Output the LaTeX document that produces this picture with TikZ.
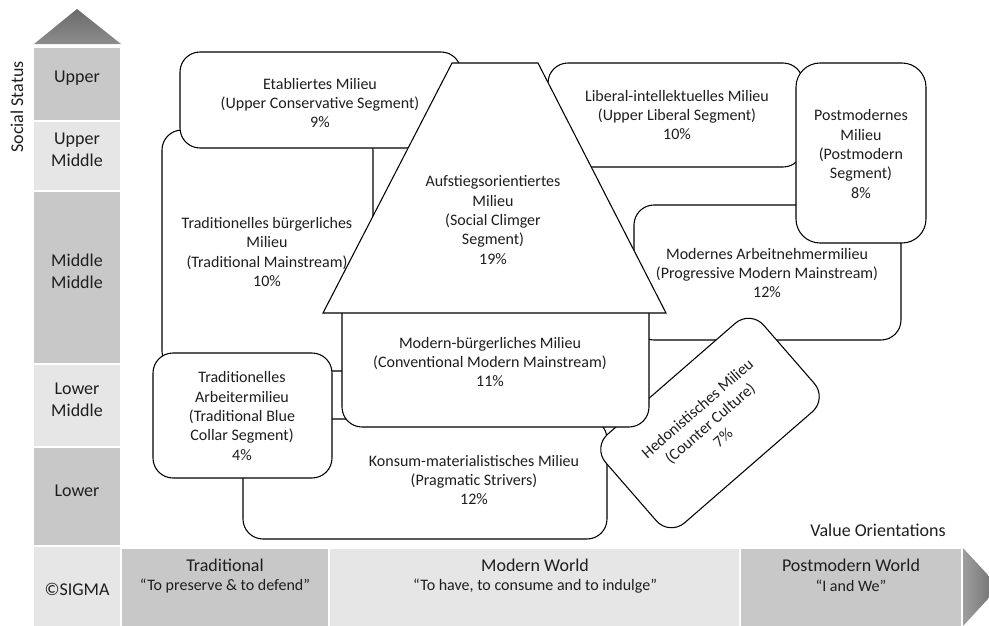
\documentclass[tikz,border=0pt]{standalone}
\usepackage{fontspec}
\setmainfont{Carlito}
\usetikzlibrary{fit}
\definecolor{cdark}{HTML}{C8C8C8}
\definecolor{clight}{HTML}{E6E6E6}
\definecolor{txt}{HTML}{1E1E1E}
\begin{document}
\begin{tikzpicture}[x=0.75pt,y=-0.75pt,
  box/.style={draw=black, line width=0.8pt, fill=white, rounded corners=15pt, inner sep=0pt},
  trap/.style={draw=black, line width=0.8pt, fill=white},
  boxtext/.style={align=center, font=\fontsize{12}{14.5}\selectfont, text=txt, inner sep=0pt},
  cell/.style={inner sep=0pt, draw=none, align=center, font=\fontsize{13.5}{16.5}\selectfont, text=txt},
  axistext/.style={align=center, font=\fontsize{13.5}{16.5}\selectfont, text=txt, inner sep=0pt},
  quotetext/.style={align=center, font=\fontsize{12}{14.5}\selectfont, text=txt, inner sep=0pt}]
\useasboundingbox (0,0) rectangle (989,625);

% ---------- vertical axis ----------
\coordinate (triL) at (34,44);
\coordinate (triT) at (77,9);
\coordinate (triR) at (121,44);
\shade[top color=black!58, bottom color=black!45] (triL) -- (triT) -- (triR) -- cycle;

\node[cell, fill=cdark,  fit={(34,48) (120,120)}]  (upper)  {Upper};
\node[cell, fill=clight, fit={(34,122) (120,190)}] (uppermid) {Upper\\Middle};
\node[cell, fill=cdark,  fit={(34,192) (120,363)}] (midmid) {Middle\\Middle};
\node[cell, fill=clight, fit={(34,365) (120,446)}] (lowmid) {Lower\\Middle};
\node[cell, fill=cdark,  fit={(34,448) (120,545)}] (lower)  {Lower};
\node[cell, fill=clight, fit={(34,547) (120,630)}] (sigmacell) {};
\node[axistext] (sigma) at (77,589) {©SIGMA};

\node[axistext, rotate=90] (socstat) at (17,107) {Social Status};

% ---------- horizontal axis ----------
\node[cell, fill=cdark,  fit={(122,549) (328,630)}] (tradcell) {};
\node[cell, fill=clight, fit={(330,549) (739,630)}] (modcell) {};
\node[cell, fill=cdark,  fit={(741,549) (961,630)}] (pmcell) {};
\coordinate (arrT) at (963,548);
\coordinate (arrP) at (999,587);
\coordinate (arrB) at (963,626);
\shade[left color=black!38, right color=black!58] (arrT) -- (arrP) -- (arrB) -- cycle;

\node[axistext] (tradlbl) at (225,565) {Traditional};
\node[quotetext] (tradq) at (225,586) {“To preserve \& to defend”};
\node[axistext] (modlbl) at (535,565) {Modern World};
\node[quotetext] (modq) at (535,586) {“To have, to consume and to indulge”};
\node[axistext] (pmlbl) at (851,565) {Postmodern World};
\node[quotetext] (pmq) at (851,586) {“I and We”};
\node[axistext] (valor) at (878,530) {Value Orientations};

% ---------- milieus (drawn back to front) ----------
\node[box, fit={(162,130) (373,371)}] (tradb) {};
\node[boxtext] (tradbt) at (267,252) {Traditionelles bürgerliches\\Milieu\\(Traditional Mainstream)\\10\%};

\node[box, fit={(180,52) (461,148)}] (etab) {};
\node[boxtext] (etabt) at (320,103) {Etabliertes Milieu\\(Upper Conservative Segment)\\9\%};

\node[box, fit={(548,63) (803,167)}] (lib) {};
\node[boxtext] (libt) at (677,115) {Liberal-intellektuelles Milieu\\(Upper Liberal Segment)\\10\%};

\node[box, fit={(634,205) (901,340)}] (arb) {};
\node[boxtext] (arbt) at (767,273) {Modernes Arbeitnehmermilieu\\(Progressive Modern Mainstream)\\12\%};

\node[box, rounded corners=18pt, fit={(796,63) (926,243)}] (pm) {};
\node[boxtext] (pmt) at (861,154) {Postmodernes\\Milieu\\(Postmodern\\Segment)\\8\%};

\node[box, fit={(243,419) (607,539)}] (kons) {};
\node[boxtext] (konst) at (474,480) {Konsum-materialistisches Milieu\\(Pragmatic Strivers)\\12\%};

\node[box, boxtext, rotate=41, minimum width=157pt, minimum height=88pt] (hed) at (710,423)
  {Hedonistisches Milieu\\(Counter Culture)\\7\%};

\node[box, fit={(342,290) (649,427)}] (modb) {};
\node[boxtext] (modbt) at (490,362) {Modern-bürgerliches Milieu\\(Conventional Modern Mainstream)\\11\%};

\coordinate (trA) at (452,63);
\coordinate (trB) at (538,63);
\coordinate (trC) at (666,313);
\coordinate (trD) at (323,313);
\draw[trap] (trA) -- (trB) -- (trC) -- (trD) -- cycle;
\node[boxtext] (aufst) at (493,220) {Aufstiegsorientiertes\\Milieu\\(Social Climger\\Segment)\\19\%};

\node[box, fit={(153,353) (332,478)}] (tradarb) {};
\node[boxtext] (tradarbt) at (242,416) {Traditionelles\\Arbeitermilieu\\(Traditional Blue\\Collar Segment)\\4\%};
\end{tikzpicture}
\end{document}
